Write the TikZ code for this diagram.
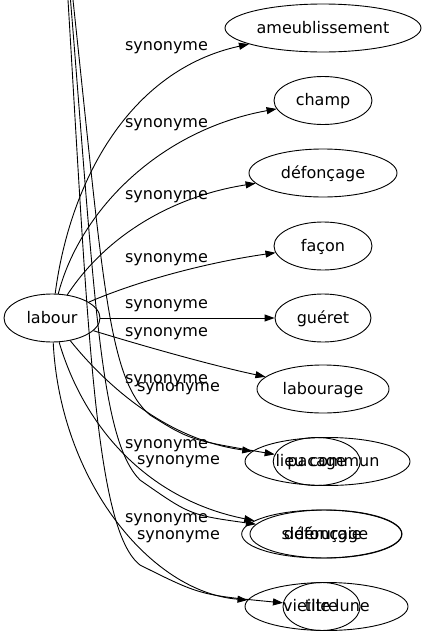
\documentclass[tikz,border=0pt]{standalone}
\usepackage{fontspec}
\setmainfont{DejaVu Sans}
\usetikzlibrary{shapes.geometric,arrows.meta}

\begin{document}
\begin{tikzpicture}[x=1pt,y=-1pt,line width=0.9pt,
  font=\fontsize{16}{19}\selectfont,
  word/.style={draw,ellipse,inner sep=0pt,minimum height=48,text height=13.5,text depth=3.5},
  rel/.style={inner sep=0pt},
  arr/.style={-{Triangle[length=10pt,width=7pt]}}]
\useasboundingbox (0,0) rectangle (426,635);

% left node:
\node[word,minimum width=96] (labour) at (52,318) {labour};

% right column:
\node[word,minimum width=196] (ameu) at (323,28) {ameublissement};
\node[word,minimum width=98] (champ) at (323,100.5) {champ};
\node[word,minimum width=148] (defon) at (323,173) {défonçage};
\node[word,minimum width=98] (facon) at (323,246) {façon};
\node[word,minimum width=96] (gueret) at (323,318) {guéret};
\node[word,minimum width=132] (labourage) at (323,389) {labourage};

% overlapping pairs:
\node[word,minimum width=165] (lieu) at (327.5,461.5) {lieu commun};
\node[word,minimum width=87] (pacage) at (316.7,461.5) {pacage};

\node[word,minimum width=160] (sider) at (321.7,534) {sidérurgie};
\node[word,minimum width=152] (defon2) at (326,534) {défonçage};

\node[word,minimum width=163] (vieille) at (326.5,606.5) {vieille lune};
\node[word,minimum width=77] (titre) at (321.5,606.5) {titre};

% edges from labour:
\draw[arr] (labour) .. controls (70,180) and (130,70) .. (ameu);
\draw[arr] (labour) .. controls (80,210) and (160,130) .. (champ);
\draw[arr] (labour) .. controls (110,230) and (180,195) .. (defon);
\draw[arr] (labour) .. controls (140,280) and (210,262) .. (facon);
\draw[arr] (labour) -- (gueret);
\draw[arr] (labour) .. controls (140,345) and (210,365) .. (labourage);
\draw[arr] (labour) .. controls (110,390) and (170,440) .. (lieu);
\draw[arr] (labour) .. controls (85,430) and (150,500) .. (sider);
\draw[arr] (labour) .. controls (60,480) and (150,592) .. (vieille);

% edges from above:
\coordinate (top1) at (73,0);
\coordinate (top2) at (70.5,0);
\coordinate (top3) at (68,0);
\draw[arr] (top1) .. controls (103,280) and (108,380) .. (150,415) .. controls (190,440) .. (pacage);
\draw[arr] (top2) .. controls (95,300) and (100,440) .. (140,480) .. controls (190,515) .. (defon2);
\draw[arr] (top3) .. controls (88,330) and (95,530) .. (140,565) .. controls (200,595) .. (titre);

% labels:
\node[rel] (s1) at (166.5,48) {synonyme};
\node[rel] (s2) at (166.5,125) {synonyme};
\node[rel] (s3) at (166.5,197) {synonyme};
\node[rel] (s4) at (166.5,260) {synonyme};
\node[rel] (s5) at (166.5,306) {synonyme};
\node[rel] (s6) at (166.5,334) {synonyme};
\node[rel] (s7) at (166.5,381) {synonyme};
\node[rel] (s8) at (178.5,389) {synonyme};
\node[rel] (s9) at (166.5,446) {synonyme};
\node[rel] (s10) at (178.5,462) {synonyme};
\node[rel] (s11) at (166.5,520) {synonyme};
\node[rel] (s12) at (178.5,537) {synonyme};

\end{tikzpicture}
\end{document}
